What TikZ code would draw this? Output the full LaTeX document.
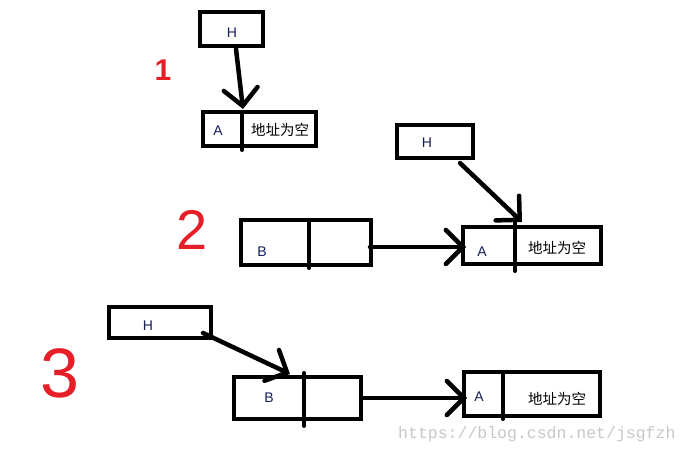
\documentclass[tikz,border=0pt]{standalone}
\usepackage{fontspec}
\setmainfont{Liberation Sans}
\newfontfamily\cjkf{Noto Sans CJK SC}
\newfontfamily\wmfont{Liberation Mono}
\usetikzlibrary{arrows.meta}
\definecolor{redmark}{RGB}{230,30,40}
\definecolor{lettercol}{RGB}{20,30,90}
\definecolor{wmgray}{RGB}{200,200,195}
\begin{document}
\begin{tikzpicture}[x=1pt,y=-1pt,
  box/.style={draw, line width=4pt, inner sep=0pt},
  divline/.style={line width=4pt, line cap=round},
  lbl/.style={font=\fontsize{14}{14}\selectfont, text=lettercol, inner sep=0pt},
  cjk/.style={font=\cjkf\fontsize{14.5}{14.5}\selectfont, inner sep=0pt},
  num/.style={text=redmark, inner sep=0pt},
  arr/.style={line width=4.5pt, line cap=round, -{Straight Barb[length=17pt,width=34pt,line cap=round]}}]
\useasboundingbox (0,0) rectangle (689,454);
\fill[white] (0,0) rectangle (689,454);

% ---- step 1
\node[num, font=\fontsize{30}{30}\selectfont\bfseries] (n1) at (163,70) {1};
\node[box, minimum width=63pt, minimum height=34pt] (h1) at (231.5,29) {};
\node[lbl] (h1t) at (232,33) {H};
\node[box, minimum width=113pt, minimum height=34pt] (a1) at (259.5,129) {};
\coordinate (a1dt) at (242,112);
\coordinate (a1db) at (242,150);
\draw[divline] (a1dt) -- (a1db);
\node[lbl] (a1l) at (218,131) {A};
\node[cjk] (a1r) at (280,130) {地址为空};
\coordinate (h1s) at (236,49);
\coordinate (a1in) at (243,109);
\draw[arr] (h1s) -- (a1in);

% ---- step 2
\node[num, font=\fontsize{56}{56}\selectfont] (n2) at (192,230) {2};
\node[box, minimum width=76pt, minimum height=33pt] (h2) at (435,141.5) {};
\node[lbl] (h2t) at (427,143) {H};
\node[box, minimum width=130pt, minimum height=45pt] (b2) at (306,242.5) {};
\coordinate (b2dt) at (309,220);
\coordinate (b2db) at (309,268);
\draw[divline] (b2dt) -- (b2db);
\node[lbl] (b2l) at (262,252) {B};
\node[box, minimum width=138pt, minimum height=37pt] (a2) at (532,245.5) {};
\coordinate (a2dt) at (515,222);
\coordinate (a2db) at (515,271);
\draw[divline] (a2dt) -- (a2db);
\node[lbl] (a2l) at (482,252) {A};
\node[cjk] (a2r) at (557,248) {地址为空};
\coordinate (b2s) at (370,247);
\coordinate (a2in) at (466,247);
\draw[arr] (b2s) -- (a2in);
\coordinate (h2s) at (460,163);
\coordinate (a2top) at (522,222);
\draw[arr] (h2s) -- (a2top);

% ---- step 3
\node[num, font=\fontsize{70}{70}\selectfont] (n3) at (60,373) {3};
\node[box, minimum width=102pt, minimum height=31pt] (h3) at (160,322.5) {};
\node[lbl] (h3t) at (148,326) {H};
\node[box, minimum width=127pt, minimum height=42pt] (b3) at (297.5,398) {};
\coordinate (b3dt) at (304,373);
\coordinate (b3db) at (304,426);
\draw[divline] (b3dt) -- (b3db);
\node[lbl] (b3l) at (269,398) {B};
\node[box, minimum width=136pt, minimum height=44pt] (a3) at (532,394) {};
\coordinate (a3dt) at (503,372);
\coordinate (a3db) at (503,419);
\draw[divline] (a3dt) -- (a3db);
\node[lbl] (a3l) at (479,397) {A};
\node[cjk] (a3r) at (557,399) {地址为空};
\coordinate (h3s) at (203,333);
\coordinate (b3top) at (290,374);
\draw[arr] (h3s) -- (b3top);
\coordinate (b3s) at (363,398);
\coordinate (a3in) at (467,398);
\draw[arr] (b3s) -- (a3in);

% ---- watermark
\node[text=wmgray, font=\wmfont\fontsize{16.5}{16.5}\selectfont, inner sep=0pt, anchor=west] (wm) at (398,434) {https://blog.csdn.net/jsgfzh};
\end{tikzpicture}
\end{document}
